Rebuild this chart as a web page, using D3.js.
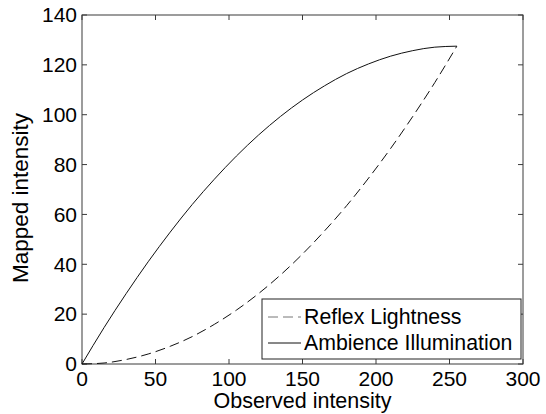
<!DOCTYPE html>
<html>
    <head>
        <title>Mapped vs observed intensity</title>
        <script src="https://d3js.org/d3.v7.min.js" charset="utf-8"></script>
        <style>
            body { margin: 0; background: #fff; }
            text { font-family: "Liberation Sans", Arial, sans-serif; fill: #000; }
        </style>
    </head>
    <body>
        <script>
            // values
            var observed = [0, 15, 30, 45, 60, 75, 90, 105, 120, 135, 150, 165, 180, 195, 210, 225, 240, 255];
            var ambience = [0, 14.6, 28.2, 41.0, 52.9, 64.0, 74.1, 83.4, 91.8, 99.3, 105.9, 111.6, 116.5, 120.4, 123.5, 125.7, 127.1, 127.5];
            var reflex = [0, 0.4, 1.8, 4.0, 7.1, 11.0, 15.9, 21.6, 28.2, 35.7, 44.1, 53.4, 63.5, 74.6, 86.5, 99.3, 112.9, 127.5];
            var xTicks = [0, 50, 100, 150, 200, 250, 300];
            var yTicks = [0, 20, 40, 60, 80, 100, 120, 140];
            var seriesNames = ["Reflex Lightness", "Ambience Illumination"];

            var W = 546, H = 414;
            var m = {left: 82, right: 23, top: 15, bottom: 50};
            var w = W - m.left - m.right, h = H - m.top - m.bottom;

            var svg = d3.select("body").append("svg")
                .attr("width", W).attr("height", H);

            var x = d3.scaleLinear().domain([0, 300]).range([m.left, m.left + w]);
            var y = d3.scaleLinear().domain([0, 140]).range([m.top + h, m.top]);

            var axisColor = "#3a3a3a";
            var tl = 5; // tick length, pointing inward like matlab

            // box
            svg.append("rect")
                .attr("x", x(0)).attr("y", y(140))
                .attr("width", w).attr("height", h)
                .attr("fill", "none").attr("stroke", axisColor).attr("stroke-width", 1);

            // ticks on all four sides
            var tickG = svg.append("g").attr("stroke", axisColor).attr("stroke-width", 1);
            xTicks.forEach(function(t) {
                tickG.append("line").attr("x1", x(t)).attr("x2", x(t)).attr("y1", y(0)).attr("y2", y(0) - tl);
                tickG.append("line").attr("x1", x(t)).attr("x2", x(t)).attr("y1", y(140)).attr("y2", y(140) + tl);
            });
            yTicks.forEach(function(t) {
                tickG.append("line").attr("x1", x(0)).attr("x2", x(0) + tl).attr("y1", y(t)).attr("y2", y(t));
                tickG.append("line").attr("x1", x(300)).attr("x2", x(300) - tl).attr("y1", y(t)).attr("y2", y(t));
            });

            // tick labels
            svg.append("g").selectAll("text").data(xTicks).join("text")
                .attr("x", d => x(d)).attr("y", y(0) + 22)
                .attr("text-anchor", "middle").attr("font-size", 21)
                .text(d => d);
            svg.append("g").selectAll("text").data(yTicks).join("text")
                .attr("x", x(0) - 5).attr("y", d => y(d))
                .attr("dy", "0.35em")
                .attr("text-anchor", "end").attr("font-size", 21)
                .text(d => d);

            // axis labels
            svg.append("text")
                .attr("x", x(150)).attr("y", H - 6)
                .attr("text-anchor", "middle").attr("font-size", 21.5)
                .text("Observed intensity");
            svg.append("text")
                .attr("transform", "translate(28,198) rotate(-90)")
                .attr("text-anchor", "middle").attr("font-size", 22.5)
                .text("Mapped intensity");

            // curves
            var pts = function(vals) { return observed.map((o, i) => [o, vals[i]]); };
            var line = d3.line().x(d => x(d[0])).y(d => y(d[1])).curve(d3.curveMonotoneX);

            svg.append("path").datum(pts(reflex))
                .attr("d", line).attr("fill", "none")
                .attr("stroke", "#111").attr("stroke-width", 1)
                .attr("stroke-dasharray", "10,5");
            svg.append("path").datum(pts(ambience))
                .attr("d", line).attr("fill", "none")
                .attr("stroke", "#111").attr("stroke-width", 1);

            // legend
            var lg = svg.append("g").attr("transform", "translate(262,299)");
            lg.append("rect").attr("x", 0).attr("y", 0).attr("width", 259).attr("height", 60)
                .attr("fill", "#fff").attr("stroke", "#222").attr("stroke-width", 1);
            seriesNames.forEach(function(name, i) {
                var ly = 18 + i * 26;
                lg.append("line").attr("x1", 6).attr("x2", 39).attr("y1", ly).attr("y2", ly)
                    .attr("stroke", i == 0 ? "#777" : "#111").attr("stroke-width", 1)
                    .attr("stroke-dasharray", i == 0 ? "10,5" : null);
                lg.append("text").attr("x", 42).attr("y", ly).attr("dy", "0.35em")
                    .attr("font-size", 21.3).text(name);
            });
        </script>
    </body>
</html>
